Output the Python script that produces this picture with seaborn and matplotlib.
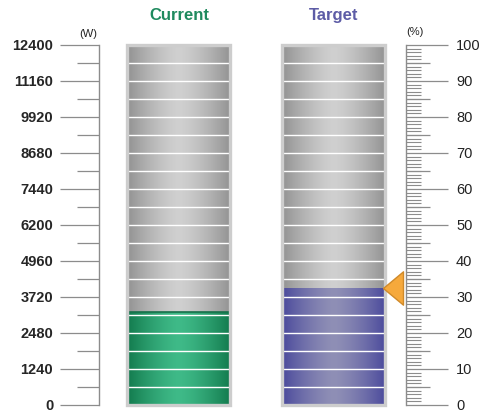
import numpy as np
import pandas as pd
import matplotlib
matplotlib.use("Agg")
import matplotlib.pyplot as plt
import matplotlib.transforms as mtransforms
from matplotlib.patches import Rectangle
import seaborn as sns

# data
labels = ["Current", "Target"]
max_watts = 12400
current_watts = 3200
target_pct = 32.5
n_segments = 20
watt_ticks = [0, 1240, 2480, 3720, 4960, 6200, 7440, 8680, 9920, 11160, 12400]
pct_ticks = [0, 10, 20, 30, 40, 50, 60, 70, 80, 90, 100]
title_colors = ["#1f8a5e", "#5d5ca6"]

sns.set_style("white")
plt.rcParams["font.family"] = ["Liberation Sans", "DejaVu Sans"]

df_full = pd.DataFrame({"meter": labels, "watts": [max_watts, max_watts]})
df_fill = pd.DataFrame({"meter": labels,
                        "watts": [current_watts, target_pct / 100 * max_watts]})

fig = plt.figure(figsize=(4.81, 4.13), dpi=100)
W, H = 481, 413
ax = fig.add_axes([99 / W, (H - 405) / H, 307 / W, 360 / H])

sns.barplot(data=df_full, x="meter", y="watts", width=0.665, color="#b0b0b0",
            ax=ax, linewidth=0)
n_bg = len(ax.patches)
sns.barplot(data=df_fill, x="meter", y="watts", width=0.665, color="#2a9a6a",
            ax=ax, linewidth=0)


def gradient(edge, center, n=200):
    t = np.linspace(0, 1, n)
    w = 1 - np.abs(2 * t - 1) ** 1.4
    e = np.array(matplotlib.colors.to_rgb(edge))
    c = np.array(matplotlib.colors.to_rgb(center))
    return (e[None, :] + (c - e)[None, :] * w[:, None])[None, :, :]


gray = gradient("#929292", "#d0d0d0")
fills = [gradient("#127a4d", "#3fba88"), gradient("#4b4a9c", "#8f8fb6")]

bg_patches = ax.patches[:n_bg]
fill_patches = ax.patches[n_bg:]
for p in bg_patches:
    x0, y0, w, h = p.get_x(), p.get_y(), p.get_width(), p.get_height()
    im = ax.imshow(gray, extent=(x0, x0 + w, y0, y0 + h), aspect="auto", zorder=2)
    im.set_clip_path(p)
for i, p in enumerate(fill_patches):
    x0, y0, w, h = p.get_x(), p.get_y(), p.get_width(), p.get_height()
    im = ax.imshow(fills[i], extent=(x0, x0 + w, y0, y0 + h), aspect="auto", zorder=3)
    im.set_clip_path(p)
    if i == 0:
        ax.hlines(y0 + h, x0, x0 + w, color="#17704a", lw=1.2, zorder=3.5)

seg = max_watts / n_segments
for p in bg_patches:
    x0, w = p.get_x(), p.get_width()
    ax.hlines(np.arange(1, n_segments) * seg, x0, x0 + w, color="white",
              lw=1.0, zorder=4)
    ax.add_patch(Rectangle((x0, 0), w, max_watts, fill=False, ec="#cdcdcd",
                           lw=2.4, zorder=5, clip_on=False))
ax.set_xlim(-0.516, 1.465)
ax.set_ylim(0, max_watts)

# left watt axis
for s in ["top", "right", "bottom"]:
    ax.spines[s].set_visible(False)
ax.spines["left"].set_color("#8c8c8c")
ax.spines["left"].set_linewidth(1)
ax.set_xticks([])
ax.set_xlabel("")
ax.set_ylabel("")
ax.set_yticks(watt_ticks)
ax.set_yticklabels([str(v) for v in watt_ticks], fontweight="bold", fontsize=10.5)
ax.set_yticks(np.arange(620, max_watts, 1240), minor=True)
ax.tick_params(axis="y", which="major", direction="out", length=28, width=0.9,
               color="#8c8c8c", pad=5)
ax.tick_params(axis="y", which="minor", direction="out", length=16, width=0.9,
               color="#8c8c8c")

# titles and units
tr = mtransforms.blended_transform_factory(ax.transData, ax.transAxes)
for i, lab in enumerate(labels):
    ax.text(i, 1.083, lab, transform=tr, ha="center", va="center",
            color=title_colors[i], fontsize=12, fontweight="bold")
ax.text(-0.036, 1.03, "(W)", transform=ax.transAxes, ha="center", va="center",
        fontsize=8, color="#222222")
ax.text(1.03, 1.036, "(%)", transform=ax.transAxes, ha="center", va="center",
        fontsize=8, color="#222222")

# right percent ruler
ax2 = ax.twinx()
ax2.set_ylim(0, 100)
for s in ["top", "left", "bottom"]:
    ax2.spines[s].set_visible(False)
ax2.spines["right"].set_color("#8c8c8c")
ax2.spines["right"].set_linewidth(1)
ax2.set_yticks(pct_ticks)
ax2.set_yticklabels([str(v) for v in pct_ticks], fontsize=10.5, color="#222222")
ax2.set_yticks([v for v in range(0, 101) if v % 10 != 0], minor=True)
ax2.tick_params(axis="y", which="major", direction="out", length=30, width=0.9,
                color="#8c8c8c", pad=6)
ax2.tick_params(axis="y", which="minor", direction="out", length=11, width=0.8,
                color="#8c8c8c")
tr2 = mtransforms.blended_transform_factory(ax2.transAxes, ax2.transData)
ax2.hlines(list(range(5, 100, 10)), 1, 1 + 24 / 307, color="#8c8c8c", lw=0.9,
           transform=tr2, clip_on=False)

# target marker
arrow = [(-0.6, 0), (0.6, 1), (0.6, -1), (-0.6, 0)]
ax2.plot([1 + 59 / 155], [target_pct], marker=arrow, markersize=24,
         color="#f6a93c", markeredgecolor="#d08a2a", markeredgewidth=1,
         transform=mtransforms.blended_transform_factory(ax.transData, ax2.transData),
         clip_on=False, zorder=6)

fig.savefig("out.png", dpi=100)
